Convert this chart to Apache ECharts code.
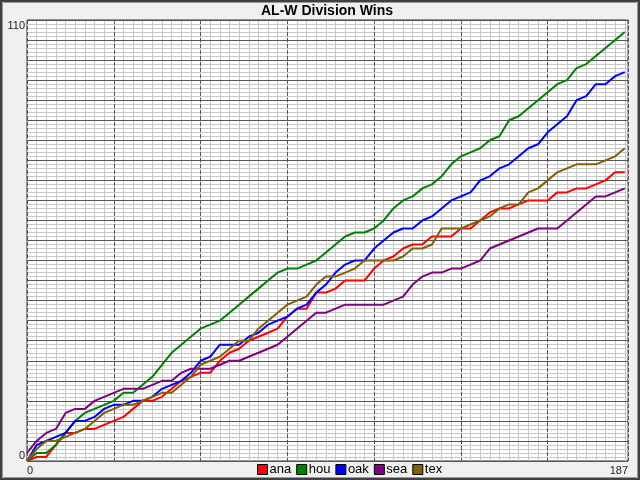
<!DOCTYPE html>
<html>
<head>
<meta charset="utf-8">
<script src="https://cdn.jsdelivr.net/npm/echarts@6/dist/echarts.min.js"></script>
<style>
html,body{margin:0;padding:0;background:#f0f0f0;}
#chart{width:640px;height:480px;}
</style>
</head>
<body>
<div id="chart"></div>
<script>
// Day index (x axis) sampled every 3 days
const days = [0,3,6,9,12,15,18,21,24,27,30,33,36,39,42,45,48,51,54,57,60,63,66,69,72,75,78,81,84,87,90,93,96,99,102,105,108,111,114,117,120,123,126,129,132,135,138,141,144,147,150,153,156,159,162,165,168,171,174,177,180,183,186];
// Cumulative wins per team
const ana = [0,1,1,4,7,7,8,8,9,10, 11,13,15,15,16,18,20,21,22,22, 25,27,28,30,31,32,33,36,38,38, 42,42,43,45,45,45,48,50,51,53, 54,54,56,56,56,58,58,60,62,63, 63,64,65,65,65,67,67,68,68,69, 70,72,72];
const hou = [0,2,2,4,7,10,12,13,14,15, 17,17,19,21,24,27,29,31,33,34, 35,37,39,41,43,45,47,48,48,49, 50,52,54,56,57,57,58,60,63,65, 66,68,69,71,74,76,77,78,80,81, 85,86,88,90,92,94,95,98,99,101, 103,105,107];
const oak = [0,4,5,6,7,10,10,11,13,14, 14,15,15,16,18,19,20,22,25,26, 29,29,29,31,32,34,35,36,38,39, 42,44,47,49,50,50,53,55,57,58, 58,60,61,63,65,66,67,70,71,73, 74,76,78,79,82,84,86,90,91,94, 94,96,97];
const sea = [2,5,7,8,12,13,13,15,16,17, 18,18,18,19,20,20,22,23,23,23, 24,25,25,26,27,28,29,31,33,35, 37,37,38,39,39,39,39,39,40,41, 44,46,47,47,48,48,49,50,53,54, 55,56,57,58,58,58,60,62,64,66, 66,67,68];
const tex = [0,3,5,5,6,7,8,10,12,13, 14,14,15,16,17,17,19,21,24,25, 26,28,30,30,33,35,37,39,40,41, 44,46,46,47,48,50,50,50,50,51, 53,53,54,58,58,58,59,60,61,63, 64,64,67,68,70,72,73,74,74,74, 75,76,78];
const teams = ['ana','hou','oak','sea','tex'];
const teamData = {ana, hou, oak, sea, tex};
const colors = {ana:'#ff0000', hou:'#008000', oak:'#0000ff', sea:'#800080', tex:'#806000'};
const xMin = 0, xMax = 187, yMin = 0, yMax = 110;
const titleText = 'AL-W Division Wins';

const chart = echarts.init(document.getElementById('chart'), null, {renderer:'canvas'});
const font = 'Liberation Sans, Arial, sans-serif';
const option = {
  animation: false,
  backgroundColor: '#f0f0f0',
  title: {
    text: titleText,
    left: 261, top: 4, padding: 0,
    textStyle: {fontFamily: font, fontSize: 14, fontWeight: 'bold', color: '#000'}
  },
  legend: {
    data: teams,
    left: 257, top: 463, padding: 0,
    icon: 'rect', itemWidth: 10, itemHeight: 10, itemGap: 5,
    itemStyle: {borderColor: '#000', borderWidth: 1},
    textStyle: {fontFamily: font, fontSize: 13, color: '#000', padding: [0,0,0,-3]}
  },
  grid: {
    left: 27, top: 20, width: 601, height: 441,
    show: true, backgroundColor: '#ffffff', borderColor: '#333', borderWidth: 1
  },
  xAxis: [
    {
      type: 'value', min: xMin, max: xMax, interval: 27, z: 2,
      axisLine: {show: false}, axisTick: {show: false},
      axisLabel: {
        show: true, margin: 4, fontFamily: font, fontSize: 11, color: '#222',
        showMinLabel: true, showMaxLabel: true,
        alignMinLabel: 'left', alignMaxLabel: 'right',
        formatter: v => (v === xMin || v === xMax) ? String(v) : ''
      },
      splitLine: {show: true, lineStyle: {color: '#555', width: 1, type: [4, 2]}}
    },
    {
      type: 'value', min: xMin, max: xMax, interval: 3, z: 0,
      axisLine: {show: false}, axisTick: {show: false}, axisLabel: {show: false},
      splitLine: {show: true, lineStyle: {color: '#c8c8c8', width: 1}}
    }
  ],
  yAxis: {
    type: 'value', min: yMin, max: yMax, interval: 5, z: 1,
    axisLine: {show: false}, axisTick: {show: false},
    axisLabel: {
      show: true, margin: 2, fontFamily: font, fontSize: 11, color: '#222',
      showMinLabel: true, showMaxLabel: true,
      verticalAlignMinLabel: 'bottom', verticalAlignMaxLabel: 'top',
      formatter: v => (v === yMin || v === yMax) ? String(v) : ''
    },
    splitLine: {show: true, lineStyle: {color: '#555', width: 1}},
    minorTick: {show: false, splitNumber: 5},
    minorSplitLine: {show: true, lineStyle: {color: '#c8c8c8', width: 1}}
  },
  graphic: [
    {type: 'rect', z: 100, silent: true, shape: {x: 1, y: 1, width: 638, height: 478},
     style: {fill: null, stroke: '#404040', lineWidth: 2}},
    {type: 'rect', z: 100, silent: true, shape: {x: 2.5, y: 2.5, width: 635, height: 475},
     style: {fill: null, stroke: '#9a9a9a', lineWidth: 1}}
  ],
  series: teams.map(t => ({
    name: t, type: 'line', xAxisIndex: 0,
    data: days.map((d, i) => [d, teamData[t][i]]),
    showSymbol: false, symbol: 'none',
    color: colors[t],
    itemStyle: {color: colors[t], borderColor: '#000', borderWidth: 1},
    lineStyle: {color: colors[t], width: 2}
  }))
};
chart.setOption(option);
</script>
</body>
</html>
